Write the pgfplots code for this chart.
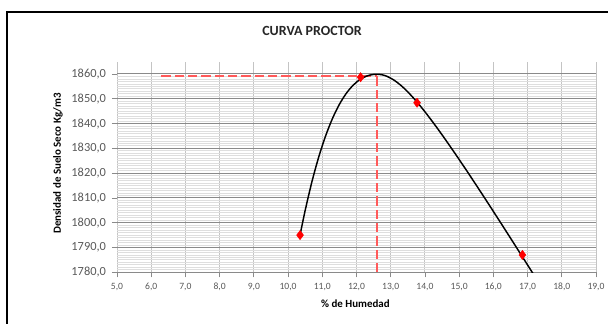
\documentclass[border=0pt]{standalone}
\usepackage{fontspec}
\setmainfont{Carlito}
\usepackage{pgfplots}
\pgfplotsset{compat=1.18}
\definecolor{majh}{HTML}{8A8A8A}
\definecolor{majv}{HTML}{C4C4C4}
\definecolor{minh}{HTML}{DEDEDE}
\definecolor{ticktxt}{HTML}{595959}
\definecolor{dashred}{HTML}{FF5A5A}
\begin{document}
\begin{tikzpicture}[x=1pt,y=1pt]
\useasboundingbox (0,0) rectangle (456,243);
\draw[line width=1.6pt,black] (5.25,-20) rectangle (480,234.2);
\node[font=\bfseries\fontsize{10.5}{12}\selectfont, text=black!85] at (234,219.4) {CURVA PROCTOR};
\begin{axis}[
  at={(87.75pt,38.8pt)}, anchor=south west,
  scale only axis, width=359.25pt, height=158pt,
  xmin=5, xmax=19, ymin=1780, ymax=1865,
  xtick={5,6,...,19}, ytick={1780,1790,...,1860},
  minor y tick num=9,
  grid=both, xminorgrids=false,
  major x grid style={majv, line width=0.75pt},
  major y grid style={majh, line width=0.75pt},
  minor y grid style={minh, line width=0.6pt},
  axis line style={draw=none},
  tick align=outside, xtick pos=bottom, ytick pos=left,
  major tick length=3.75pt, minor tick length=0pt,
  tick style={majh, line width=0.6pt},
  xticklabel style={font=\fontsize{7.2}{8}\selectfont, text=ticktxt, yshift=-1pt},
  yticklabel style={font=\fontsize{9.3}{10}\selectfont, text=ticktxt, xshift=-1pt},
  /pgf/number format/.cd, fixed, fixed zerofill, precision=1, use comma, 1000 sep={}, assume math mode=true,
]
% dashed reference lines
\addplot[dashred, line width=1.5pt, dash pattern=on 7pt off 3pt] coordinates {(6.3,1859.0) (12.6,1859.0)};
\addplot[dashred, line width=1.5pt, dash pattern=on 7pt off 3pt] coordinates {(12.6,1859.0) (12.6,1780)};
% fitted curve
\addplot[black, line width=1.1pt, smooth] coordinates {
(10.35,1795.00) (10.50,1804.96) (10.70,1816.68) (10.90,1826.69) (11.10,1835.13)
(11.30,1842.12) (11.50,1847.75) (11.70,1852.16) (11.90,1855.45) (12.10,1857.75)
(12.30,1859.17) (12.45,1859.73) (12.60,1859.90) (12.75,1859.68) (12.90,1859.01)
(13.10,1857.50) (13.30,1855.38) (13.50,1852.77) (13.75,1848.98) (14.00,1844.76)
(14.30,1839.29) (14.60,1833.52) (15.00,1825.51) (15.40,1817.25) (15.80,1808.82)
(16.20,1800.27) (16.60,1791.64) (16.90,1785.12) (17.20,1778.58)
};
% measured points
\addplot[only marks, mark=diamond*, mark size=3.4pt, color=red, fill=red] coordinates {
(10.35,1795.0) (12.12,1858.7) (13.77,1848.4) (16.85,1787.0)
};
\end{axis}
\node[rotate=90, font=\bfseries\fontsize{8.2}{10}\selectfont] at (43.5,120.4) {Densidad de Suelo Seco Kg/m3};
\node[font=\bfseries\fontsize{8.2}{10}\selectfont] at (266.6,15.4) {\% de Humedad};
\end{tikzpicture}
\end{document}
